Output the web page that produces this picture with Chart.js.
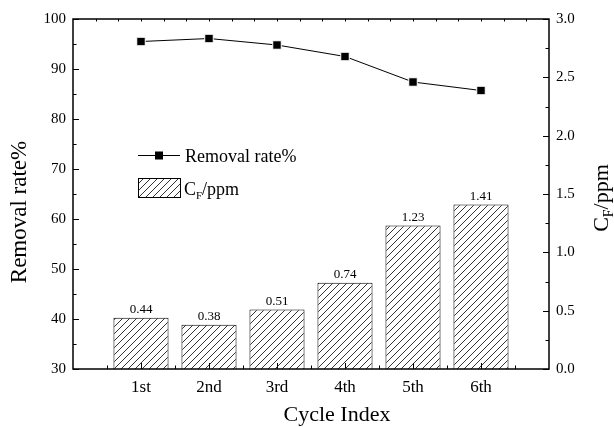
<!DOCTYPE html>
<html>
<head>
<meta charset="utf-8">
<script src="https://cdn.jsdelivr.net/npm/chart.js@4.4.1/dist/chart.umd.min.js"></script>
<style>
    body { margin: 0; background: #fff; }
    #wrap { width: 614px; height: 427px; }
</style>
</head>
<body>
<div id="wrap"><canvas id="cycleChart" width="614" height="427"></canvas></div>
<script>
//* DATA
const cycles = ['', '1st', '2nd', '3rd', '4th', '5th', '6th', ''];
const removalRate = [null, 95.5, 96.1, 94.8, 92.5, 87.4, 85.7, null];
const cfPpm = [null, 0.44, 0.38, 0.51, 0.74, 1.23, 1.41, null];
const leftTicks = [30, 40, 50, 60, 70, 80, 90, 100];
const rightTicks = [0, 0.5, 1.0, 1.5, 2.0, 2.5, 3.0];

const serif = '"Liberation Serif", "Times New Roman", serif';

// hatch pattern for the bars
function makeHatch() {
    const c = document.createElement('canvas');
    c.width = 7;
    c.height = 7;
    const g = c.getContext('2d');
    g.fillStyle = '#fff';
    g.fillRect(0, 0, 7, 7);
    g.strokeStyle = '#000';
    g.lineWidth = 0.8;
    g.beginPath();
    g.moveTo(0, 7); g.lineTo(7, 0);
    g.moveTo(-1, 1); g.lineTo(1, -1);
    g.moveTo(6, 8); g.lineTo(8, 6);
    g.stroke();
    return g.createPattern(c, 'repeat');
}
const hatch = makeHatch();

//* frame, inward ticks, titles, legend and bar labels
const decorPlugin = {
    id: 'decor',
    afterDraw(chart) {
        const { ctx, chartArea: a, scales } = chart;
        const x = scales.x, y = scales.y, y2 = scales.y2;
        ctx.save();
        ctx.strokeStyle = '#000';
        ctx.lineWidth = 1.5;
        ctx.strokeRect(a.left, a.top, a.right - a.left, a.bottom - a.top);

        ctx.lineWidth = 1;
        ctx.beginPath();
        for (let v = 30; v <= 100; v += 5) {
            const py = Math.round(y.getPixelForValue(v)) + 0.5;
            const len = v % 10 === 0 ? 6 : 3.5;
            ctx.moveTo(a.left, py); ctx.lineTo(a.left + len, py);
        }
        for (let v = 0; v <= 3; v += 0.25) {
            const py = Math.round(y2.getPixelForValue(v)) + 0.5;
            const len = Math.abs(v * 2 - Math.round(v * 2)) < 0.01 ? 6 : 3.5;
            ctx.moveTo(a.right, py); ctx.lineTo(a.right - len, py);
        }
        for (let i = 0.5; i < 7; i += 0.5) {
            const px = Math.round(x.getPixelForValue(i)) + 0.5;
            const len = i % 1 === 0 ? 6 : 3.5;
            ctx.moveTo(px, a.bottom); ctx.lineTo(px, a.bottom - len);
        }
        for (let i = 1; i < 21; i++) {
            const px = Math.round(x.getPixelForValue(i / 3)) + 0.5;
            ctx.moveTo(px, a.top); ctx.lineTo(px, a.top + 2.5);
        }
        ctx.stroke();

        // bar value labels
        const barMeta = chart.getDatasetMeta(1);
        ctx.fillStyle = '#000';
        ctx.font = '13px ' + serif;
        ctx.textAlign = 'center';
        ctx.textBaseline = 'alphabetic';
        barMeta.data.forEach((bar, i) => {
            if (cfPpm[i] === null) return;
            ctx.fillText(cfPpm[i].toFixed(2), bar.x, bar.y - 5);
        });

        // axis titles
        ctx.font = '22px ' + serif;
        ctx.textAlign = 'center';
        ctx.textBaseline = 'middle';
        ctx.fillText('Cycle Index', 337, 415);

        ctx.save();
        ctx.font = '23px ' + serif;
        ctx.translate(20, 212);
        ctx.rotate(-Math.PI / 2);
        ctx.fillText('Removal rate%', 0, 0);
        ctx.restore();

        ctx.save();
        ctx.translate(600, 198);
        ctx.rotate(-Math.PI / 2);
        ctx.textAlign = 'left';
        ctx.textBaseline = 'alphabetic';
        ctx.font = '22px ' + serif;
        const wC = ctx.measureText('C').width;
        ctx.font = '14px ' + serif;
        const wF = ctx.measureText('F').width;
        ctx.font = '22px ' + serif;
        const wP = ctx.measureText('/ppm').width;
        let sx = -(wC + wF + wP) / 2;
        ctx.fillText('C', sx, 8);
        ctx.font = '14px ' + serif;
        ctx.fillText('F', sx + wC, 13);
        ctx.font = '22px ' + serif;
        ctx.fillText('/ppm', sx + wC + wF, 8);
        ctx.restore();

        // legend
        ctx.lineWidth = 1;
        ctx.beginPath();
        ctx.moveTo(138, 155.5); ctx.lineTo(180, 155.5);
        ctx.stroke();
        ctx.fillRect(155, 151.5, 8, 8);
        ctx.fillStyle = '#000';
        ctx.font = '18px ' + serif;
        ctx.textAlign = 'left';
        ctx.textBaseline = 'alphabetic';
        ctx.fillText('Removal rate%', 185, 162);

        ctx.fillStyle = hatch;
        ctx.fillRect(138.5, 178.5, 42, 19);
        ctx.strokeRect(138.5, 178.5, 42, 19);
        ctx.fillStyle = '#000';
        ctx.font = '18px ' + serif;
        ctx.fillText('C', 184, 195);
        const cw = ctx.measureText('C').width;
        ctx.font = '11px ' + serif;
        ctx.fillText('F', 184 + cw, 199);
        const fw = ctx.measureText('F').width;
        ctx.font = '18px ' + serif;
        ctx.fillText('/ppm', 184 + cw + fw, 195);
        ctx.restore();
    }
};

const data = {
    labels: cycles,
    datasets: [{
        type: 'line',
        label: 'Removal rate%',
        data: removalRate,
        yAxisID: 'y',
        borderColor: '#000',
        borderWidth: 1,
        pointStyle: 'rect',
        pointRadius: 6,
        pointBackgroundColor: '#000',
        pointBorderColor: '#fff',
        pointBorderWidth: 1,
        tension: 0,
        order: 0
    }, {
        type: 'bar',
        label: 'CF/ppm',
        data: cfPpm,
        yAxisID: 'y2',
        backgroundColor: hatch,
        borderColor: '#000',
        borderWidth: 1,
        categoryPercentage: 0.81,
        barPercentage: 1,
        order: 1
    }]
};

const config = {
    type: 'bar',
    data: data,
    options: {
        responsive: false,
        animation: false,
        layout: { padding: { top: 19, left: 0, right: 0, bottom: 0 } },
        plugins: {
            legend: { display: false },
            tooltip: { enabled: false }
        },
        scales: {
            x: {
                type: 'category',
                offset: false,
                grid: { display: false, drawTicks: false },
                border: { display: false },
                ticks: { color: '#000', font: { family: serif, size: 17 }, padding: 8, autoSkip: false, maxRotation: 0 },
                afterFit: (s) => { s.height = 58; }
            },
            y: {
                position: 'left',
                min: 30,
                max: 100,
                grid: { display: false, drawTicks: false },
                border: { display: false },
                ticks: { color: '#000', font: { family: serif, size: 15 }, padding: 7, stepSize: 10 },
                afterBuildTicks: (s) => { s.ticks = leftTicks.map(v => ({ value: v })); },
                afterFit: (s) => { s.width = 73; }
            },
            y2: {
                position: 'right',
                min: 0,
                max: 3,
                grid: { display: false, drawTicks: false },
                border: { display: false },
                ticks: { color: '#000', font: { family: serif, size: 15 }, padding: 7, callback: (v) => Number(v).toFixed(1) },
                afterBuildTicks: (s) => { s.ticks = rightTicks.map(v => ({ value: v })); },
                afterFit: (s) => { s.width = 65; }
            }
        }
    },
    plugins: [decorPlugin]
};

var cycleChart = new Chart(document.getElementById('cycleChart'), config);
</script>
</body>
</html>
